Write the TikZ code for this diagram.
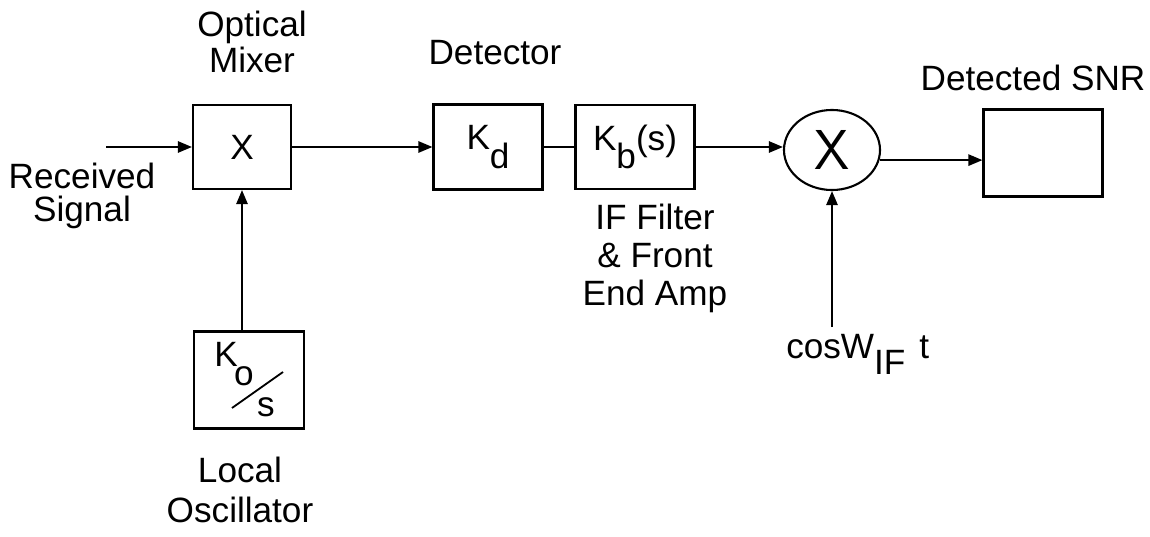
\documentclass[tikz,border=0pt]{standalone}
\usepackage{fontspec}
\setmainfont{Liberation Sans}
\usetikzlibrary{arrows.meta,shapes.geometric}

\begin{document}
\begin{tikzpicture}[x=0.025cm, y=-0.025cm,
	every node/.style={font=\fontsize{25}{27}\selectfont},
	block/.style={draw, line width=1.5pt, inner sep=0pt},
	mult/.style={draw, ellipse, line width=1.5pt, minimum width=2.4cm, minimum height=2cm, inner sep=0pt},
	sig/.style={line width=1.5pt, -{Triangle[length=10pt,width=8pt]}},
	lbl/.style={align=center, inner sep=0pt}]
\useasboundingbox (0,0) rectangle (1150,537);
% blocks
\node[block, minimum width=2.45cm, minimum height=2.1cm] (mixer) at (242,147) {X};
\node[block, minimum width=2.75cm, minimum height=2.425cm] (lo) at (249,380) {};
\node[block, minimum width=2.725cm, minimum height=2.125cm] (det) at (488,147) {K\raisebox{-14pt}{d}};
\node[block, minimum width=2.975cm, minimum height=2.1cm] (filt) at (635,147) {K\raisebox{-13pt}{b}(s)};
\node[mult] (mult) at (832,150) {\sffamily\fontsize{40}{40}\selectfont X};
\node[block, minimum width=2.975cm, minimum height=2.175cm] (snr) at (1043,153) {};
% K_o / s
\node[inner sep=0pt] (lok) at (226,354) {K};
\node[inner sep=0pt] (loo) at (244,376) {o};
\node[inner sep=0pt] (los) at (266,407) {s};
\draw[line width=1.3pt] (232,408) -- (283,372);
% labels
\node[lbl] (mixlab) at (252,42) {Optical\\[-2pt]Mixer};
\node[lbl] (rxlab) at (82,196) {Received\\[-3pt]Signal};
\node[lbl] (lolab) at (240,490) {Local\\[1pt]Oscillator};
\node[lbl] (detlab) at (495,53) {Detector};
\node[lbl] (filtlab) at (655,258) {IF Filter\\\& Front\\End Amp};
\node[lbl] (snrlab) at (1033,78) {Detected SNR};
\node[lbl, anchor=base west] (coslab) at (786,358) {cosW\raisebox{-12pt}{IF}\hspace{10pt}t};
% connectors
\coordinate (rx) at (106,147);
\coordinate (cosin) at (832,327);
\draw[sig] (rx) -- (mixer.west);
\draw[sig] (mixer.south |- lo.north) -- (mixer.south);
\draw[sig] (mixer) -- (det);
\draw[line width=1.5pt] (det) -- (filt);
\draw[sig] (filt.east) -- (filt.east -| mult.west);
\draw[sig] (mult.-12) -- (mult.-12 -| snr.west);
\draw[sig] (cosin) -- (mult.south);
\end{tikzpicture}
\end{document}
